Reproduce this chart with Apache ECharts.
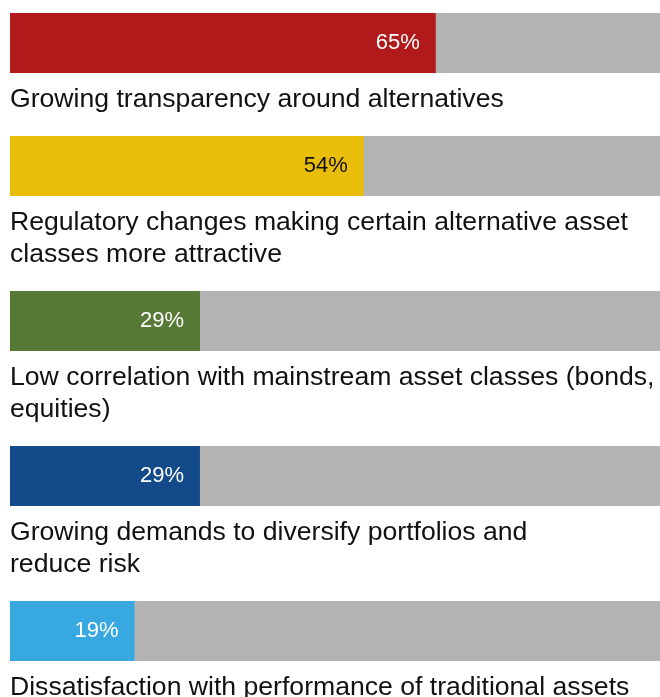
<!DOCTYPE html>
<html>
<head>
<meta charset="utf-8">
<script src="https://cdn.jsdelivr.net/npm/echarts@6/dist/echarts.min.js"></script>
<style>
  html, body { margin: 0; padding: 0; background: #fff; overflow: hidden; }
  /* bars run a little past the right edge of the window, like the original */
  #chart { width: 670px; height: 697px; }
</style>
</head>
<body>
<div id="chart"></div>
<script>
// drivers, top to bottom
const categories = [
  'Growing transparency around alternatives',
  'Regulatory changes making certain alternative asset\nclasses more attractive',
  'Low correlation with mainstream asset classes (bonds,\nequities)',
  'Growing demands to diversify portfolios and\nreduce risk',
  'Dissatisfaction with performance of traditional assets'
]
const values = [65, 54, 29, 29, 19]
const barColors = ['#b01a1a', '#e8be0b', '#567935', '#124a8a', '#38a9e0']
const labelColors = ['#fff', '#111', '#fff', '#fff', '#fff']

const chart = echarts.init(document.getElementById('chart'))

const barH = 60
const lineH = 32
const font = '"Liberation Sans", Arial, Helvetica, sans-serif'

const grids = []
const xAxes = []
const yAxes = []
const series = []
const titles = []
let y = 13
categories.forEach((name, i) => {
  const lines = name.split('\n').length
  grids.push({ left: 10, top: y, width: 655, height: barH })
  xAxes.push({ gridIndex: i, type: 'value', min: 0, max: 100, show: false })
  yAxes.push({ gridIndex: i, type: 'category', data: [name], show: false })
  series.push({
    type: 'bar',
    xAxisIndex: i,
    yAxisIndex: i,
    data: [values[i]],
    barWidth: barH,
    showBackground: true,
    backgroundStyle: { color: '#b3b3b3' },
    itemStyle: { color: barColors[i] },
    label: {
      show: true,
      position: 'insideRight',
      distance: 16,
      formatter: '{c}%',
      color: labelColors[i],
      fontSize: 22,
      fontFamily: font
    },
    silent: true
  })
  titles.push({
    text: name,
    left: 10,
    top: y + barH + 11,
    padding: 0,
    textStyle: {
      color: '#111',
      fontSize: 26.6,
      fontWeight: 'normal',
      fontFamily: font,
      lineHeight: lineH
    }
  })
  y += barH + lineH * lines + 31
})

chart.setOption({
  animation: false,
  title: titles,
  grid: grids,
  xAxis: xAxes,
  yAxis: yAxes,
  series: series
})
</script>
</body>
</html>
